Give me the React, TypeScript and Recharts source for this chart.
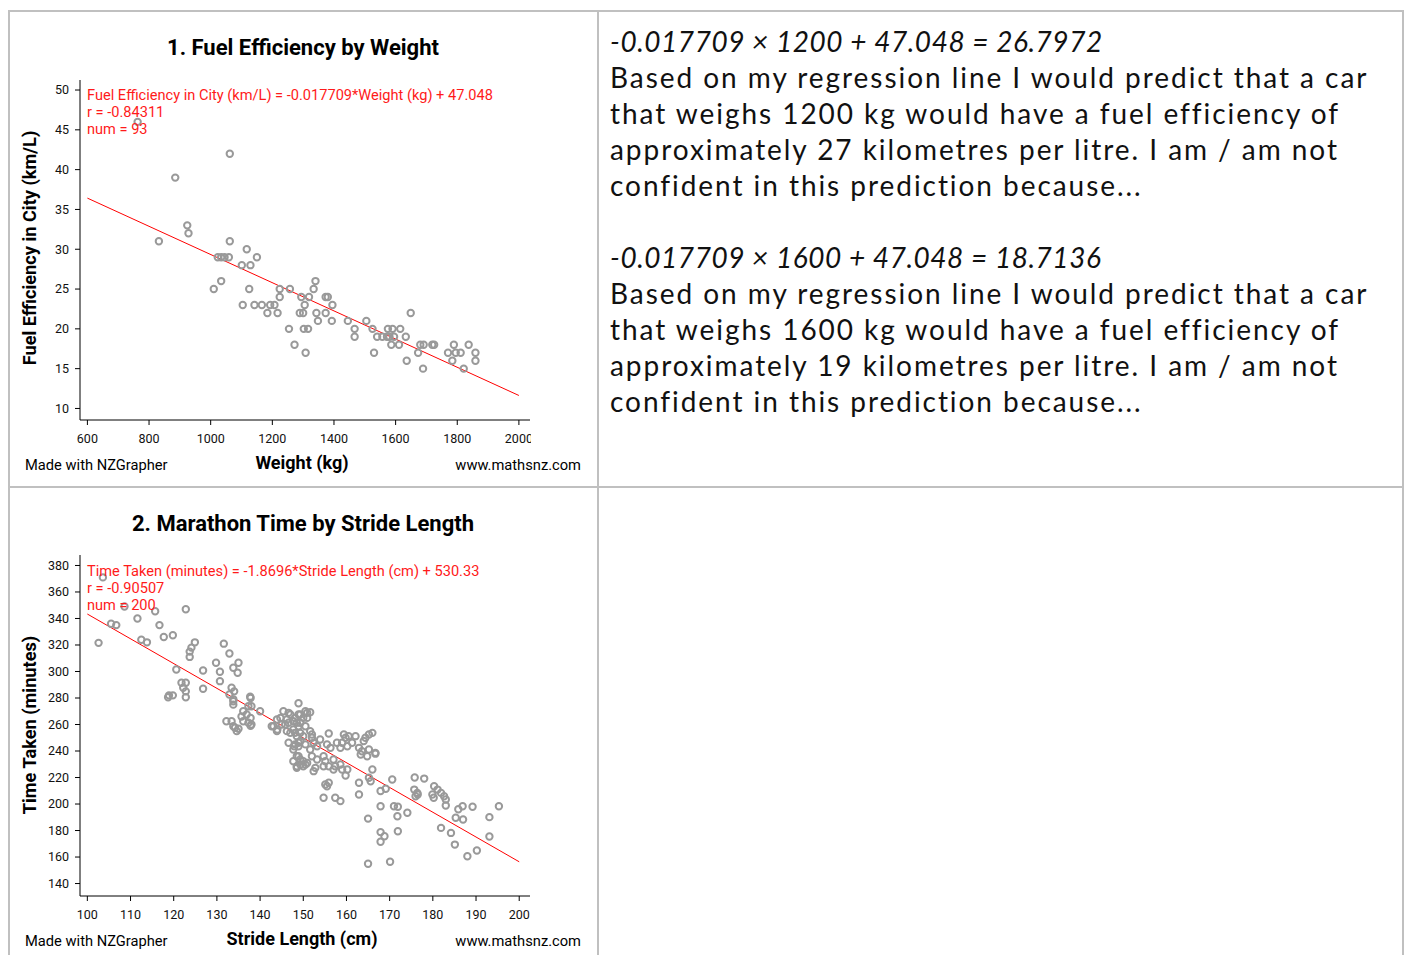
import { ScatterChart, Scatter, XAxis, YAxis, ReferenceLine } from 'recharts'

// chart 1 – fuel efficiency vs weight
const weightKg = [
  763, 1062, 885, 924, 928, 832, 1062, 1117, 1150, 1023, 1034, 1045, 1059, 1101, 1129, 1034,
  1010, 1125, 1224, 1257, 1224, 1294, 1104, 1142, 1166, 1193, 1207, 1184, 1217, 1289, 1300,
  1305, 1254, 1302, 1316, 1272, 1308, 1340, 1334, 1319, 1373, 1380, 1395, 1343, 1373, 1348,
  1393, 1445, 1505, 1467, 1467, 1525, 1540, 1530, 1557, 1572, 1575, 1590, 1580, 1595, 1586,
  1611, 1615, 1633, 1649, 1636, 1673, 1680, 1691, 1689, 1719, 1725, 1770, 1789, 1784, 1795,
  1811, 1821, 1837, 1859, 1859,
]
const fuelKmL = [
  46, 42, 39, 33, 32, 31, 31, 30, 29, 29, 29, 29, 29, 28, 28, 26,
  25, 25, 25, 25, 24, 24, 23, 23, 23, 23, 23, 22, 22, 22, 22,
  23, 20, 20, 20, 18, 17, 26, 25, 24, 24, 24, 23, 22, 22, 21,
  21, 21, 21, 20, 19, 20, 19, 17, 19, 19, 20, 20, 19, 19, 18,
  18, 20, 19, 22, 16, 17, 18, 18, 15, 18, 18, 17, 18, 16, 17,
  17, 15, 18, 17, 16,
]
const weightTicks = [600, 800, 1000, 1200, 1400, 1600, 1800, 2000]
const fuelTicks = [10, 15, 20, 25, 30, 35, 40, 45, 50]
const FUEL_SLOPE = -0.017709
const FUEL_INTERCEPT = 47.048

// chart 2 – marathon time vs stride length
const strideCm = [
  103.6, 122.8, 108.6, 111.6, 115.7, 105.5, 106.7, 116.7, 102.6, 112.5, 113.8, 117.7, 119.8,
  124.9, 124.1, 123.7, 123.7, 131.6, 132.9, 129.8, 135, 133.8, 134.8, 126.8, 130.7, 120.6,
  130.7, 121.8, 122.2, 122.8, 122.8, 122.8, 118.9, 119.8, 118.7, 126.8, 133.4, 134, 132.9,
  133.8, 133.8, 137.8, 138, 137.3, 140, 136.1, 136.9, 148.9, 145.4, 146.6, 132.2, 133.4,
  134.2, 134.6, 135.7, 137.8, 136.1, 137.3, 138, 143.1, 143.9, 144.7, 145.8, 150, 150.9,
  149.3, 150.5, 146.6, 147.7, 148.9, 148.5, 149.3, 148.5, 150, 150.9,
  133.8, 137.7, 133.8, 135, 137.8, 142.7, 144, 143.9, 147.7, 148.9, 147.7, 147, 148.5,
  147.9, 148.9, 149.3, 150.5,
  147, 146.2, 148.1, 149.3, 150.5, 151.6, 150.9, 145, 146.6, 148.5, 148.9, 146.2, 148.1,
  149.3, 150, 151.6, 152, 155.9, 148.1, 149.3, 150.5, 152, 152.4, 153.2, 151.6, 153.9,
  155.5, 156.3, 157.8, 159, 159.8, 159.4, 160.5, 158.6, 160.2, 162.1, 161.3, 164.4, 165.2,
  166, 164, 162.9, 163.6, 163.3, 165.2, 164.8, 166.7, 148.9, 147.7, 148.5, 150, 152,
  152.8, 153.2, 152.4, 154.7, 155.1, 155.9, 154.7, 157, 157.4, 158.6, 157, 159, 159.8,
  160.2, 155.1, 155.9, 155.5, 154.7, 157.4, 158.6, 162.9, 162.9, 166, 165.6, 167.9, 170.6,
  167.9, 171,
  166.7, 165.2, 169.1, 171.9, 171.8, 174.1, 171.9, 167.9, 168.8, 167.9, 165, 165, 170.1,
  175.8, 178, 175.7, 176.4, 176, 176.5, 180.3, 181.1, 179.9, 181.9, 180.2, 182.6, 183, 183,
  181.9, 184.2, 185.1, 185.9, 186.9, 189.2, 185.3, 187, 188, 190.2, 193.1, 193.1, 195.3,
]
const timeMin = [
  371, 347, 349, 340, 345.5, 336, 335, 335, 321.6, 324, 322, 326, 327.4,
  322, 318, 315, 311, 321, 313.6, 306.6, 306.6, 302.8, 299, 300.8, 299.8, 301.5,
  292.7, 291.5, 287.7, 291.5, 285, 280.6, 282, 282, 280.6, 287, 287.7, 285, 282.6,
  279, 275, 280, 273.8, 273.8, 270, 270, 267.5, 276, 270, 268.8, 262.5, 262.5,
  257.5, 255, 266, 265, 262.5, 261.3, 260, 258.7, 255, 265, 260, 265, 268.8,
  261.3, 258.7, 246.2, 241.1, 246.2, 236, 233.6, 228.5, 228.5, 231,
  277.6, 281, 258.7, 256.8, 259, 258.7, 256.2, 263.8, 262.5, 267.5, 256.2, 253.7, 251.2,
  243.6, 243.6, 229.8, 229.8,
  267.5, 263.8, 265, 267.5, 270, 269.2, 265, 260, 261.3, 261.3, 258.7, 255, 253.7,
  253.7, 251.2, 255, 252.5, 253.2, 245, 247.5, 245, 250, 246.2, 243.6, 241.1, 248.7,
  245, 242.4, 246.2, 246.2, 250, 252.5, 251.2, 242.4, 243.6, 251.2, 246.2, 250, 252.5,
  253.7, 247.5, 242.4, 239.8, 237.4, 241.1, 236, 238.6, 236, 232.3, 227.3, 232.3, 236,
  227.3, 233.6, 224.8, 236, 232.3, 228.5, 228.5, 233.6, 228.5, 229.8, 226, 226, 221.5,
  226, 214.7, 216, 213.4, 204.7, 204.7, 202.2, 216, 207.2, 226, 217.2, 209.8, 218.5,
  198.3, 198.3,
  238, 219.8, 211.5, 197.9, 190.8, 193.4, 179.5, 178.8, 175.7, 171.5, 189, 154.9, 156.4,
  220, 219.2, 210.9, 208.4, 205.9, 207.2, 213.4, 210.9, 207.2, 208.4, 204.7, 205.9, 203.4, 198.9,
  182, 178.2, 169.4, 196.1, 198.3, 197.9, 189.6, 188.3, 160.6, 164.9, 190.1, 175.5, 198.3,
]
const strideTicks = [100, 110, 120, 130, 140, 150, 160, 170, 180, 190, 200]
const timeTicks = [140, 160, 180, 200, 220, 240, 260, 280, 300, 320, 340, 360, 380]
const TIME_SLOPE = -1.8696
const TIME_INTERCEPT = 530.33

const fuelData = weightKg.map((w, i) => ({ x: w, y: fuelKmL[i] }))
const strideData = strideCm.map((s, i) => ({ x: s, y: timeMin[i] }))

const answerLines1 = [
  'Based on my regression line I would predict that a car',
  'that weighs 1200 kg would have a fuel efficiency of',
  'approximately 27 kilometres per litre. I am / am not',
  'confident in this prediction because...',
]
const answerLines2 = [
  'Based on my regression line I would predict that a car',
  'that weighs 1600 kg would have a fuel efficiency of',
  'approximately 19 kilometres per litre. I am / am not',
  'confident in this prediction because...',
]

const chartFont = 'Roboto, sans-serif'
const tickStyle = { fontSize: 12.5, fill: '#111', fontFamily: chartFont }
const BORDER = '#c0c0c0'

const Ring = (props: any) => (
  <circle cx={props.cx} cy={props.cy} r={3.2} fill="none" stroke="#999" strokeWidth={2} />
)

type PlotProps = {
  data: { x: number; y: number }[]
  xDomain: [number, number]
  yDomain: [number, number]
  xTicks: number[]
  yTicks: number[]
  slope: number
  intercept: number
  width: number
  height: number
  margin: { top: number; right: number; bottom: number; left: number }
}

const Plot = ({ data, xDomain, yDomain, xTicks, yTicks, slope, intercept, width, height, margin }: PlotProps) => {
  const x0 = xTicks[0]
  const x1 = xTicks[xTicks.length - 1]
  return (
    <ScatterChart width={width} height={height} margin={margin}>
      <XAxis
        type="number"
        dataKey="x"
        domain={xDomain}
        ticks={xTicks}
        interval={0}
        allowDataOverflow
        height={30}
        tickSize={5}
        tickMargin={9}
        tick={tickStyle}
        stroke="#000"
      />
      <XAxis xAxisId="top" orientation="top" type="number" domain={xDomain} height={0} tick={false} tickLine={false} stroke="#000" />
      <YAxis
        type="number"
        dataKey="y"
        domain={yDomain}
        ticks={yTicks}
        interval={0}
        allowDataOverflow
        width={60}
        tickSize={5}
        tickMargin={6}
        tick={tickStyle}
        stroke="#000"
      />
      <YAxis yAxisId="right" orientation="right" type="number" domain={yDomain} width={0} tick={false} tickLine={false} stroke="#000" />
      <Scatter data={data} shape={Ring} isAnimationActive={false} />
      <ReferenceLine
        segment={[
          { x: x0, y: slope * x0 + intercept },
          { x: x1, y: slope * x1 + intercept },
        ]}
        stroke="#ff0000"
        strokeWidth={1}
      />
    </ScatterChart>
  )
}

const abs = (left: number, top: number, extra: React.CSSProperties = {}): React.CSSProperties => ({
  position: 'absolute',
  left,
  top,
  whiteSpace: 'nowrap',
  ...extra,
})

const ChartText = ({ top, labelCenter, title, yLabel, xLabel, eq, r, num }: any) => (
  <>
    <div style={abs(0, top + 35, { width: 606, textAlign: 'center', fontFamily: chartFont, fontWeight: 700, fontSize: 22 })}>{title}</div>
    <div style={abs(87, top + 87, { fontFamily: chartFont, fontSize: 14.6, color: '#ff1a1a', lineHeight: '17px' })}>
      <div>{eq}</div>
      <div>{r}</div>
      <div>{num}</div>
    </div>
    <div
      style={abs(-120, labelCenter - 11, {
        width: 300,
        height: 22,
        lineHeight: '22px',
        textAlign: 'center',
        transform: 'rotate(-90deg)',
        fontFamily: chartFont,
        fontWeight: 700,
        fontSize: 18.2,
      })}
    >
      {yLabel}
    </div>
    <div style={abs(0, top + 452, { width: 604, textAlign: 'center', fontFamily: chartFont, fontWeight: 700, fontSize: 18 })}>{xLabel}</div>
    <div style={abs(25, top + 456, { fontFamily: chartFont, fontSize: 14.7 })}>Made with NZGrapher</div>
    <div style={abs(381, top + 456, { width: 200, textAlign: 'right', fontFamily: chartFont, fontSize: 14.7 })}>www.mathsnz.com</div>
  </>
)

export default function App() {
  const answerFont: React.CSSProperties = { fontFamily: 'Lato, sans-serif', fontSize: 28, lineHeight: '36px', color: '#111' }
  const bodyLine: React.CSSProperties = { letterSpacing: '1.95px' }
  const eqLine: React.CSSProperties = { fontStyle: 'italic', letterSpacing: '0.55px' }
  return (
    <div style={{ position: 'absolute', left: 0, top: 0, width: 1405, height: 955, overflow: 'hidden', background: '#fff' }}>
      {/* table rules */}
      <div style={abs(9, 10, { width: 1395, height: 2, background: BORDER })} />
      <div style={abs(9, 486, { width: 1395, height: 2, background: BORDER })} />
      <div style={abs(8, 10, { width: 2, height: 945, background: BORDER })} />
      <div style={abs(597, 10, { width: 2, height: 945, background: BORDER })} />
      <div style={abs(1402, 10, { width: 2, height: 945, background: BORDER })} />

      <div style={abs(0, 0)}>
        <Plot
          data={fuelData}
          xDomain={[576, 2036]}
          yDomain={[8.55, 51.26]}
          xTicks={weightTicks}
          yTicks={fuelTicks}
          slope={FUEL_SLOPE}
          intercept={FUEL_INTERCEPT}
          width={531}
          height={487}
          margin={{ top: 80, right: 1, bottom: 37, left: 20 }}
        />
      </div>
      <ChartText
        top={0}
        labelCenter={248}
        title="1. Fuel Efficiency by Weight"
        yLabel="Fuel Efficiency in City (km/L)"
        xLabel="Weight (kg)"
        eq="Fuel Efficiency in City (km/L) = -0.017709*Weight (kg) + 47.048"
        r="r = -0.84311"
        num="num = 93"
      />

      <div style={abs(0, 487)}>
        <Plot
          data={strideData}
          xDomain={[98.3, 202.5]}
          yDomain={[130.6, 387.9]}
          xTicks={strideTicks}
          yTicks={timeTicks}
          slope={TIME_SLOPE}
          intercept={TIME_INTERCEPT}
          width={540}
          height={468}
          margin={{ top: 68, right: 10, bottom: 29, left: 20 }}
        />
      </div>
      <ChartText
        top={476}
        labelCenter={725}
        title="2. Marathon Time by Stride Length"
        yLabel="Time Taken (minutes)"
        xLabel="Stride Length (cm)"
        eq="Time Taken (minutes) = -1.8696*Stride Length (cm) + 530.33"
        r="r = -0.90507"
        num="num = 200"
      />

      <div style={abs(610, 23, answerFont)}>
        <div style={eqLine}>-0.017709 × 1200 + 47.048 = 26.7972</div>
        {answerLines1.map((l) => (
          <div key={l} style={bodyLine}>{l}</div>
        ))}
        <div>&nbsp;</div>
        <div style={eqLine}>-0.017709 × 1600 + 47.048 = 18.7136</div>
        {answerLines2.map((l) => (
          <div key={'b' + l} style={bodyLine}>{l}</div>
        ))}
      </div>
    </div>
  )
}
